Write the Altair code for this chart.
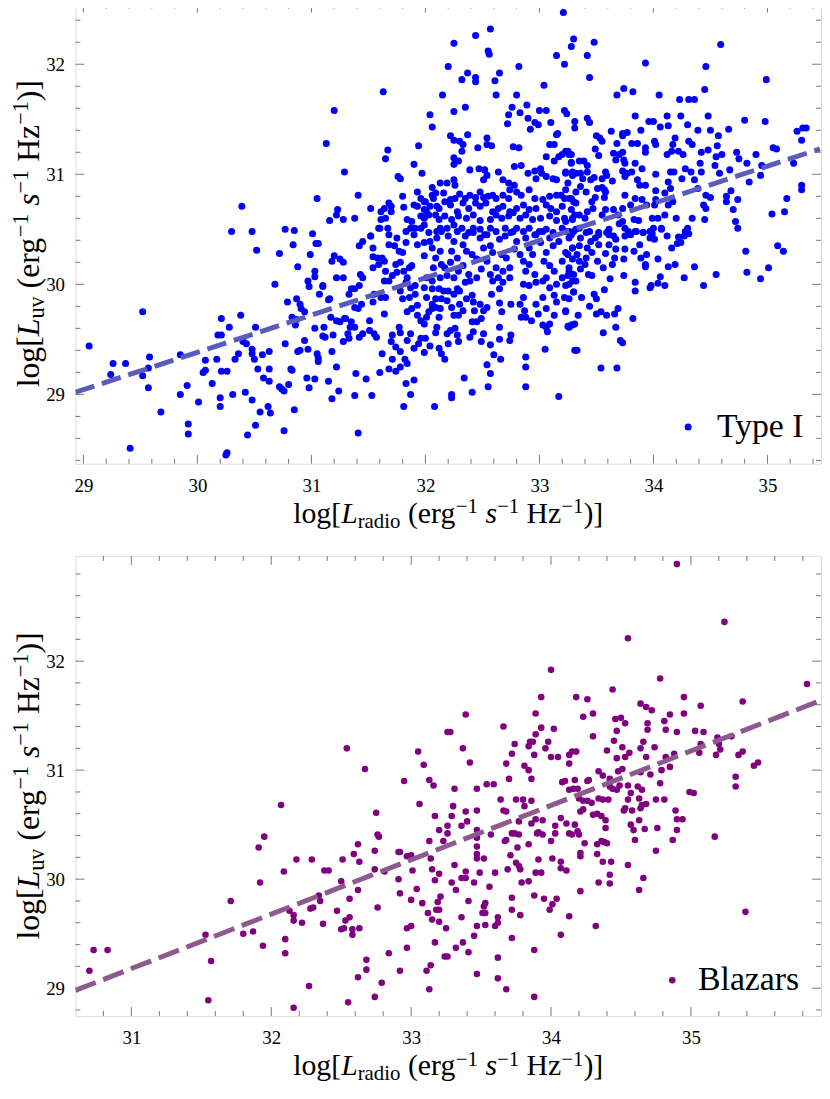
import altair as alt
import pandas as pd

FONT = "Liberation Serif"
FRAME = "#777777"

# ---------------- Type I (top panel) : (log L_radio, log L_uv) ----------------
type1_left = [
    (30.39,30.71),(31.05,30.78),
    (30.30,30.48),(30.48,30.48),(30.77,30.50),(30.85,30.49),(31.01,30.46),(31.04,30.37),(30.52,30.31),(30.72,30.28),
    (30.84,30.36),(30.99,30.27),(31.03,30.12),(31.03,30.07),(30.88,30.16),(30.68,30.00),(30.97,30.03),(30.98,29.98),
    (31.10,29.98),(31.07,29.91),(30.79,29.84),(30.87,29.87),(30.90,29.82),(30.91,29.78),(30.94,29.75),(30.83,29.70),
    (30.87,29.68),(30.86,29.63),(31.03,29.60),(31.15,29.86),
    (29.52,29.75),(29.05,29.44),(29.26,29.28),(29.37,29.28),(29.24,29.18),(29.52,29.17),(29.58,29.34),(29.57,29.24),
    (29.57,29.06),(29.68,28.84),(29.41,28.51),
    (29.85,29.36),(29.85,29.00),(29.91,29.08),(29.92,28.73),(29.92,28.64),(30.01,28.93),(30.07,29.31),(30.05,29.20),
    (30.07,29.22),(30.13,29.10),(30.17,29.32),(30.18,29.54),(30.21,29.54),(30.21,29.69),(30.28,29.61),(30.21,29.21),
    (30.26,29.21),(30.20,28.97),(30.20,28.89),(30.31,29.00),(30.25,28.45),(30.26,28.47),(30.33,29.32),(30.36,29.37),
    (30.38,29.72),(30.40,29.48),(30.43,29.46),(30.48,29.41),(30.48,29.37),(30.50,29.32),(30.51,29.61),(30.53,29.23),
    (30.57,29.36),(30.58,29.15),(30.63,29.39),(30.63,29.23),(30.63,29.12),(30.42,29.02),(30.48,28.95),(30.55,28.84),
    (30.62,28.89),(30.64,28.83),(30.51,28.72),(30.44,28.63),(30.76,28.67),(30.72,29.07),(30.74,29.05),(30.76,29.03),
    (30.80,29.09),(30.82,29.23),(30.83,29.22),(30.85,28.86),(30.77,29.46),(30.94,29.49),(30.88,29.39),(30.90,29.40),
    (30.97,29.41),(31.05,29.37),(31.06,29.33),(31.06,29.30),(30.96,29.15),(30.98,29.06),(31.03,29.14),(31.10,29.53),
]

type1_mid_upper = [
    (33.21,32.47),(32.57,32.32),(32.44,32.26),(32.25,32.19),(32.55,32.12),(32.56,32.09),(33.15,32.08),(33.22,32.00),
    (33.30,32.23),(33.28,32.16),(32.20,31.98),(32.82,31.98),(32.37,31.92),(32.32,31.86),(32.44,31.88),(32.44,31.84),
    (32.65,31.92),(32.61,31.85),(33.04,31.81),(31.63,31.75),(32.15,31.72),(32.62,31.72),(32.80,31.72),(31.20,31.58),
    (32.25,31.57),(32.35,31.61),(32.04,31.54),(32.06,31.43),(32.76,31.61),(32.73,31.54),(32.72,31.46),(32.83,31.56),
    (32.89,31.63),(32.90,31.51),(32.96,31.47),(32.99,31.45),(32.92,31.41),(33.00,31.58),(33.06,31.58),(33.10,31.47),
    (33.22,31.58),(33.24,31.55),(33.31,31.48),(33.31,31.42),(31.13,31.28),(31.67,31.22),(31.65,31.14),(31.94,31.26),
    (32.22,31.35),(32.25,31.31),(32.30,31.30),(32.33,31.27),(32.32,31.21),(32.37,31.36),(32.46,31.24),(32.54,31.33),
    (32.54,31.27),(32.58,31.26),(32.77,31.25),(32.82,31.24),(33.09,31.27),(33.13,31.27),(33.15,31.36),(33.16,31.37),
    (33.25,31.21),(33.28,31.18),(33.20,31.18),(33.17,31.16),(33.06,31.16),(33.13,31.12),(33.28,31.10),(31.90,31.09),
    (31.97,31.01),(32.25,31.15),(32.25,31.09),(32.29,31.12),(31.29,31.02),(31.76,30.98),(31.78,30.96),(31.41,30.81),
    (31.23,30.68),(31.22,30.63),(31.16,30.58),(31.28,30.59),(31.38,30.60),(31.52,30.69),(31.61,30.66),(31.64,30.69),
    (31.68,30.74),(31.70,30.71),(31.70,30.66),(31.61,30.59),(31.65,30.60),(31.80,30.80),(31.81,30.70),(31.90,30.72),
    (31.60,30.51),(31.52,30.44),(31.67,30.51),(31.84,30.59),(31.88,30.57),(31.87,30.51),(31.96,30.78),(32.00,30.75),
    (32.01,30.66),(31.99,30.60),(31.96,30.51),
    (32.06,30.88),(32.09,30.83),(32.07,30.78),(32.10,30.71),(32.09,30.63),(32.12,30.59),(32.13,30.51),(32.13,30.92),
    (32.19,30.92),(32.25,30.95),(32.26,30.90),(32.39,31.04),(32.47,31.05),(32.52,31.04),(32.54,30.99),(32.51,30.95),
    (32.64,31.02),(32.68,30.95),(32.73,30.92),(32.74,30.86),(32.78,30.90),(32.80,30.84),(32.78,31.07),(32.84,31.08),
    (32.90,31.01),(32.96,31.03),(33.01,31.05),(33.02,31.01),(32.97,30.96),(33.06,30.98),(33.12,30.96),(33.15,30.95),
    (33.23,31.01),(33.29,31.02),(33.25,30.92),(33.23,30.86),(33.19,30.81),(33.26,30.78),(33.30,30.75),
    (31.93,30.84),(31.99,30.75),(32.06,30.81),(32.16,30.83),(32.22,30.77),(32.26,30.78),(32.30,30.82),(32.35,30.78),
    (32.39,30.81),(32.44,30.79),(32.48,30.84),(32.51,30.79),(32.55,30.80),(32.59,30.81),(32.62,30.78),(32.68,30.81),
    (32.73,30.78),(32.84,30.81),(32.91,30.86),(32.96,30.78),(33.03,30.77),(33.09,30.80),(33.15,30.81),(33.22,30.78),
    (31.93,30.71),(31.99,30.68),(32.04,30.71),(32.12,30.69),(32.17,30.75),(32.22,30.72),(32.28,30.66),(32.33,30.74),
    (32.38,30.69),(32.44,30.74),(32.48,30.71),(32.53,30.74),(32.59,30.66),(32.64,30.69),(32.68,30.71),(32.74,30.66),
    (32.80,30.69),(32.86,30.72),(32.91,30.68),(32.97,30.69),(33.06,30.72),(33.10,30.69),(33.15,30.66),(33.20,30.71),
    (33.28,30.68),(33.31,30.63),
    (31.96,30.62),(32.03,30.63),(32.17,30.62),(32.23,30.59),(32.29,30.62),(32.36,30.60),(32.42,30.63),(32.48,30.58),
    (32.57,30.59),(32.62,30.63),(32.67,30.60),(32.73,30.62),(32.77,30.65),(32.83,30.60),(32.88,30.63),(32.94,30.59),
    (33.01,30.60),(33.09,30.62),(33.15,30.58),(33.22,30.60),(33.29,30.59),
    (31.91,30.51),(31.99,30.54),(32.03,30.47),(32.10,30.48),(32.19,30.51),(32.25,30.54),(32.28,30.48),(32.32,30.51),
    (32.38,30.47),(32.42,30.51),(32.48,30.50),(32.52,30.45),(32.57,30.51),(32.62,30.48),(32.70,30.51),(32.75,30.47),
    (32.80,30.51),(32.86,30.48),(32.91,30.51),(32.96,30.45),(33.00,30.48),(33.06,30.50),(33.12,30.47),(33.20,30.51),
    (33.26,30.48),
]

type1_mid_lower = [
    (31.41,28.65),(32.08,28.89),(31.81,28.89),(32.23,28.97),(32.23,29.00),(32.41,29.02),(32.55,29.07),(32.34,29.15),
    (32.57,29.19),(32.54,29.27),(32.88,29.07),(32.88,29.25),(32.88,29.34),(33.17,28.98),(33.05,29.41),(33.31,29.40),
    (32.66,29.32),(32.60,29.36),(31.18,28.96),(31.24,29.03),(31.15,29.12),(31.38,28.99),(31.39,29.19),(31.48,29.14),
    (31.53,28.99),(31.60,29.20),(31.68,29.23),(31.74,29.21),(31.78,29.25),(31.83,29.10),(31.87,29.00),(31.90,29.13),
    (31.22,29.25),(31.18,29.39),(31.62,29.37),(31.71,29.32),(31.78,29.39),(31.82,29.32),(31.84,29.28),(32.17,29.32),
    (32.14,29.37),(32.12,29.42),
    (31.99,29.38),(32.04,29.44),(31.90,29.42),(31.94,29.46),(31.96,29.51),(32.00,29.51),(31.84,29.49),(31.87,29.55),
    (32.20,29.46),(32.28,29.54),(32.29,29.48),(32.26,29.60),(32.22,29.58),(32.19,29.55),(32.09,29.56),(32.10,29.61),
    (32.39,29.52),(32.42,29.57),(32.51,29.55),(32.49,29.48),(32.57,29.45),(32.65,29.50),(32.65,29.61),(32.75,29.54),
    (32.74,29.49),(31.28,29.48),(31.33,29.51),(31.42,29.52),(31.45,29.55),(31.51,29.58),(31.55,29.55),(31.57,29.52),
    (31.71,29.54),(31.70,29.48),(31.74,29.43),(31.78,29.56),(31.77,29.61),(31.12,29.52),(31.11,29.61),(31.19,29.54),
    (31.25,29.66),(31.30,29.69),(31.34,29.61),(31.32,29.55),(31.38,29.61),
    (31.06,30.37),(31.18,30.21),(31.20,30.26),(31.25,30.23),(31.28,30.20),(31.22,30.06),(31.28,30.06),(31.10,29.99),
    (31.16,29.87),(31.35,29.96),(31.38,29.96),(31.42,29.99),(31.33,29.91),(31.43,30.09),(31.45,30.06),(31.45,30.39),
    (31.42,30.35),(31.52,30.44),(31.59,30.51),(31.54,30.33),(31.54,30.25),(31.58,30.24),(31.62,30.24),(31.54,30.15),
    (31.59,30.18),(31.64,30.21),(31.65,30.12),(31.55,29.91),(31.54,29.84),(31.44,29.82),(31.41,29.78),(31.38,29.79),
    (31.29,29.69),(31.22,29.67),(31.17,29.70),(31.35,29.66),(31.64,29.73),(31.61,29.88),(31.65,29.88),(31.51,29.67),
    (31.64,30.03),(31.68,30.03),(31.71,30.08),(31.75,30.11),(31.74,30.18),(31.77,30.30),(31.73,30.35),(31.68,30.36),
    (31.68,30.45),(31.75,30.42),(31.83,30.48),(31.83,30.38),(31.80,30.29),(31.78,30.20),(31.81,30.12),(31.86,30.15),
    (31.88,30.17),(31.84,30.06),(31.83,30.02),(31.87,29.97),(31.91,29.99),(31.78,29.94),(31.80,29.87),(31.86,29.88),
    (31.91,29.91),(31.93,29.81),(31.88,29.78),(31.84,29.75),(31.93,29.72),(31.96,29.67),(31.99,29.64),(32.01,29.70),
    (32.06,29.78),(32.03,29.75),(32.09,29.79),(32.13,29.78),(32.12,29.70),(32.06,29.82),(32.09,29.87),(32.01,29.88),
    (32.06,29.96),(32.12,29.96),(32.16,29.94),(32.14,29.87),(32.19,29.85),(32.20,29.94),(32.25,29.91),(32.23,29.79),
    (32.25,29.72),(32.30,29.82),(32.33,29.76),(32.29,29.72),(32.36,29.87),(32.41,29.90),(32.42,29.84),(32.43,29.76),
    (32.48,29.82),(32.51,29.76),(32.54,29.79),(32.49,29.69),(32.41,29.66),(32.45,29.66),
    (31.90,30.45),(31.93,30.36),(31.99,30.38),(31.99,30.26),(32.04,30.39),(32.06,30.33),(32.09,30.24),(32.13,30.30),
    (32.10,30.42),(32.14,30.48),(32.20,30.44),(32.25,30.39),(32.23,30.30),(32.28,30.24),(32.22,30.20),(32.17,30.15),
    (32.14,30.18),(32.07,30.15),(32.01,30.06),(31.99,29.97),(32.06,30.03),(32.13,30.06),(32.19,30.08),(32.25,30.06),
    (32.29,30.12),(32.33,30.17),(32.38,30.09),(32.35,30.02),(32.39,30.03),(32.45,30.06),(32.30,29.94),(32.28,29.96),
    (32.45,30.23),(32.41,30.27),(32.36,30.30),(32.33,30.36),(32.35,30.44),(32.42,30.47),(32.48,30.42),(32.54,30.45),
    (32.51,30.33),(32.57,30.35),(32.59,30.29),(32.54,30.21),(32.49,30.14),(32.57,30.09),(32.62,30.15),(32.68,30.12),
    (32.64,30.06),(32.59,30.03),(32.58,29.91),(32.65,29.96),(32.68,30.02),(32.74,30.06),(32.74,30.15),(32.71,30.24),
    (32.67,30.27),(32.65,30.41),(32.70,30.44),(32.77,30.48),(32.80,30.39),(32.78,30.32),(32.83,30.27),(32.86,30.21),
    (32.88,30.12),(32.86,30.00),(32.91,29.99),(32.97,30.02),(32.96,30.09),(32.91,30.18),(32.94,30.27),(32.91,30.33),
    (32.88,30.42),(32.97,30.45),(33.03,30.48),(33.09,30.42),(33.12,30.35),(33.06,30.29),(33.04,30.21),(33.09,30.17),
    (33.13,30.12),(33.06,30.06),(33.03,30.03),(33.09,29.97),(33.15,30.00),(33.20,30.06),(33.25,30.08),(33.29,30.03),
    (33.26,30.15),(33.20,30.21),(33.23,30.29),(33.29,30.33),(33.26,30.42),(33.30,30.48),(33.17,30.39),(33.01,30.38),
    (32.65,29.83),(32.75,29.82),(32.67,29.75),(32.83,29.82),(32.86,29.88),(32.87,29.76),(32.88,29.70),(32.93,29.67),
    (32.97,29.82),(32.99,29.73),(33.03,29.88),(33.06,29.78),(33.13,29.90),(33.15,29.84),(33.22,29.88),(33.23,29.76),
    (33.13,29.72),(33.09,29.64),(33.06,29.61),(33.07,29.57),(33.03,29.63),(33.26,29.61),(33.29,29.63),(33.30,29.93),
    (32.84,29.70),
]

type1_right_upper = [
    (33.48,32.20),(33.42,32.08),(33.44,31.88),(33.93,32.01),(34.59,32.18),(34.46,31.98),(34.99,31.86),(33.74,31.78),
    (33.68,31.72),(33.82,31.75),(34.05,31.72),(34.23,31.68),(34.31,31.68),(34.36,31.68),(34.45,31.77),(33.42,31.51),
    (33.44,31.47),(33.84,31.53),(33.96,31.48),(34.00,31.48),(34.12,31.53),(34.06,31.43),(34.13,31.44),(34.24,31.53),
    (34.30,31.45),(34.39,31.40),(34.50,31.40),(34.48,31.53),(34.66,31.41),(34.57,31.35),(34.80,31.49),(34.98,31.48),
    (35.26,31.39),(35.31,31.42),(35.34,31.42),(35.30,31.31),(35.05,31.24),(35.08,31.23),(33.63,31.39),(33.50,31.35),
    (33.53,31.33),(33.55,31.30),(33.49,31.23),(33.52,31.17),(33.73,31.37),(33.77,31.38),(33.73,31.35),(33.68,31.28),
    (33.81,31.28),(33.86,31.28),(33.89,31.40),(33.93,31.24),(33.93,31.20),(34.01,31.30),(34.02,31.27),(34.17,31.27),
    (34.19,31.33),(34.12,31.18),(34.16,31.21),(34.22,31.21),(34.26,31.18),(34.31,31.30),(34.34,31.27),(34.42,31.20),
    (34.48,31.22),(34.56,31.26),(34.55,31.16),(34.60,31.18),(34.73,31.20),(34.75,31.14),(34.90,31.18),(34.82,31.10),
    (34.95,31.08),(34.94,30.99),(34.84,30.93),(34.67,31.04),(34.58,31.01),(34.54,31.08),(35.23,31.10),(35.30,30.90),
    (35.30,30.86),(35.17,30.78),(35.04,30.64),(35.15,30.66),(34.64,30.80),(34.64,30.75),(34.68,30.85),(34.74,30.77),
    (34.70,30.68),(34.72,30.57),(34.41,31.10),(34.42,31.02),(34.33,31.02),(34.28,31.05),(34.36,30.95),(34.39,30.87),
    (34.46,30.81),(34.50,30.79),(34.44,30.72),(34.46,30.69),(34.45,30.59),(34.34,30.60),(34.30,30.51),(34.28,30.48),
    (34.15,31.02),(34.18,31.02),(34.25,30.96),(34.13,30.93),(34.15,30.87),(34.10,30.83),(34.02,30.85),(34.02,30.77),
    (34.01,30.72),(34.17,30.75),(34.13,30.72),(34.20,30.60),(34.10,30.63),(34.04,30.60),(33.99,30.60),(34.00,30.51),
    (34.07,30.51),(33.99,30.46),(33.91,30.47),(33.85,30.48),(33.78,30.48),(33.75,30.51),(33.90,31.05),(34.02,31.00),
    (33.86,30.95),(33.88,30.90),(33.93,30.90),(33.90,30.77),(33.94,30.72),(33.84,30.78),(33.75,30.81),(33.80,30.72),
    (33.73,30.69),(33.69,30.63),(33.65,30.68),(33.58,30.68),(33.55,30.63),(33.61,30.50),(33.70,30.55),(33.73,30.57),
    (33.83,30.59),(33.87,30.58),(33.58,31.02),(33.59,30.99),(33.64,30.94),(33.55,30.96),(33.58,30.84),(33.57,30.79),
    (33.49,30.79),(33.46,30.75),(33.47,30.69),(33.42,30.66),(33.40,30.60),(33.35,30.63),(33.32,30.74),(33.28,30.78),
    (33.29,30.60),(33.23,30.57),(33.35,30.51),(33.44,30.48),(33.52,30.45),(33.59,30.47),(33.23,31.21),(33.26,31.18),
    (33.28,31.11),(33.35,31.12),(33.39,31.12),(33.42,31.08),(33.42,31.02),(33.36,31.01),(33.32,31.01),(33.29,30.99),
    (33.23,31.02),(33.38,30.96),(33.45,30.95),(33.48,30.97),(33.51,30.87),(33.55,30.88),(33.57,30.86),(33.41,30.84),
    (33.36,30.89),(33.32,30.84),(33.73,31.20),(33.70,31.18),(33.67,31.13),(33.74,31.13),(33.75,31.10),(33.84,31.10),
    (33.73,31.03),(33.77,31.01),(33.81,31.02),(33.75,30.98),(33.65,31.19),
]

type1_right_lower = [
    (34.12,30.44),(34.07,30.50),(34.01,30.41),(33.97,30.42),(33.97,30.48),(33.91,30.47),(33.88,30.36),(33.83,30.30),
    (33.89,30.24),(33.94,30.27),(34.04,30.23),(33.93,30.18),(33.93,30.16),(34.13,30.16),(34.19,30.18),(34.06,30.07),
    (34.04,30.01),(34.10,29.99),(33.98,29.99),(33.97,29.97),(33.74,30.08),(33.74,30.23),(33.75,30.32),(33.66,30.24),
    (33.64,30.18),(33.62,30.05),(33.57,29.95),(33.56,30.15),(33.58,30.28),(33.67,30.32),(33.61,30.36),(33.52,30.36),
    (33.49,30.42),(33.52,30.47),(33.61,30.45),(33.65,30.44),(33.67,30.41),(33.75,30.44),(33.80,30.45),(33.84,30.48),
    (33.44,29.80),(33.50,29.87),(33.48,29.91),(33.37,29.88),(33.30,29.93),(33.34,29.72),(33.31,29.64),(33.28,29.63),
    (33.25,29.62),(33.23,29.75),(33.26,29.87),(33.32,30.03),(33.23,29.99),(33.26,30.00),(33.43,30.09),(33.46,30.08),
    (33.36,30.14),(33.35,30.21),(33.40,30.18),(33.23,30.48),(33.28,30.45),(33.32,30.50),(33.36,30.42),(33.41,30.47),
    (33.45,30.39),(33.42,30.33),(33.35,30.35),(33.29,30.33),(33.25,30.27),(33.29,30.23),(33.33,30.27),(33.46,30.29),
    (33.51,30.21),(33.26,30.12),(33.30,30.09),(33.41,30.24),
    (34.74,30.51),(34.81,30.30),(35.09,30.35),(35.14,30.30),(34.82,30.11),(35.01,30.15),(34.94,30.05),(34.55,30.09),
    (34.44,29.99),(34.27,30.06),(34.36,30.16),(34.16,30.33),(34.24,30.38),(34.27,30.44),(34.31,30.46),(34.22,30.43),
    (34.21,30.37),(33.84,30.02),(33.84,29.94),(33.82,29.69),(33.69,29.78),(33.66,29.73),(33.59,29.72),(33.54,29.75),
    (33.50,29.73),(33.67,29.61),(33.56,29.56),(33.71,29.49),(33.73,29.47),(33.68,29.24),(33.54,29.24),(33.33,29.40),
]

# ---------------- Blazars (bottom panel) ----------------
blazar_upper = [
    (32.54,31.20),(32.67,31.01),(33.05,31.17),(33.09,31.05),(32.95,30.90),(33.13,30.91),(33.26,31.35),
    (34.90,32.89),(35.24,32.36),(34.55,32.21),(34.00,31.92),(34.78,31.84),(35.83,31.79),(34.44,31.74),(33.93,31.67),
    (34.18,31.67),(34.26,31.65),(34.95,31.67),(35.37,31.63),(33.39,31.51),(33.89,31.52),(34.23,31.49),(34.30,31.52),
    (34.64,31.61),(34.68,31.58),(34.72,31.55),(34.85,31.51),(34.95,31.52),(35.07,31.59),(33.28,31.35),(33.66,31.40),
    (33.93,31.39),(34.02,31.38),(33.89,31.33),(34.46,31.47),(34.50,31.48),(34.53,31.43),(34.47,31.36),(34.30,31.31),
    (34.69,31.43),(34.69,31.37),(34.81,31.45),(34.82,31.37),(34.90,31.35),(35.03,31.36),(35.09,31.35),(35.19,31.30),
    (35.29,31.31),(35.20,31.24),(35.21,31.19),(35.18,31.14),(35.07,31.24),(35.06,31.16),(35.34,31.14),(35.37,31.17),
    (35.45,31.04),(35.48,31.07),(35.32,30.94),(33.37,31.20),(33.42,31.07),(33.74,31.24),(33.72,31.15),(33.68,31.06),
    (33.70,30.92),(33.84,31.22),(33.85,31.26),(33.87,31.26),(33.88,31.14),(33.98,31.26),(33.96,31.20),(33.81,31.04),
    (33.84,31.00),(33.86,30.92),(34.00,31.12),(34.05,31.12),(34.13,31.14),(34.15,31.17),(34.18,31.17),(34.13,31.06),
    (34.08,30.89),(34.10,30.90),(34.17,30.91),(34.26,30.90),(34.27,30.91),(34.34,30.99),(34.37,30.95),(34.42,30.92),
    (34.48,30.99),(34.51,31.01),(34.47,31.11),(34.51,31.21),(34.53,31.12),(34.56,31.16),(34.45,31.27),(34.40,31.18),
    (34.64,31.20),(34.66,31.26),(34.74,31.21),(34.68,31.12),(34.64,30.98),(34.71,30.96),(34.79,31.00),(34.82,31.12),
    (34.85,31.03),(34.88,31.15),
]

blazar_lower_left = [
    (30.70,29.16),(30.73,29.35),(30.83,29.35),(31.55,28.89),(31.57,29.25),(31.53,29.49),(31.71,29.80),(31.80,29.50),
    (31.87,29.52),(31.94,29.39),(31.91,30.29),(31.95,30.39),(31.92,29.97),(32.07,30.68),(32.09,30.07),(32.13,29.71),
    (32.16,29.67),(32.16,29.62),(32.22,29.60),(32.10,29.45),(32.10,29.32),(32.18,30.18),(32.29,30.18),(32.16,28.82),
    (32.27,29.02),(32.28,29.73),(32.30,29.74),(32.34,29.85),(32.35,29.80),(32.37,29.59),(32.38,30.08),(32.41,30.08),
    (32.47,29.71),(32.50,29.98),(32.51,30.18),(32.50,29.54),(32.52,29.55),(32.53,29.62),(32.56,29.65),(32.56,29.82),
    (32.58,29.54),(32.58,29.49),(32.59,30.23),(32.62,30.32),(32.63,30.16),(32.62,29.90),(32.63,29.55),(32.62,29.10),
    (32.55,28.87),(32.68,29.26),(32.68,29.17),(32.74,28.92),(32.79,29.05),(32.84,29.32),(32.75,30.61),(32.76,30.41),
    (32.77,30.39),(32.74,30.26),(32.74,30.09),(32.76,29.74),(32.81,30.07),(32.91,30.25),(32.92,30.25),(32.91,30.00),
    (32.92,29.87),(32.92,29.16),(32.97,30.21),(33.00,30.22),(33.01,30.08),(33.00,29.81),(32.97,29.55),(33.00,29.57),
    (32.97,29.37),(33.04,29.91),(33.08,29.78),(33.06,30.69),(33.12,29.69),(33.15,29.63),(33.13,30.35),(33.14,30.19),
    (33.15,30.09),(33.17,29.99),(33.19,29.79),(33.18,29.72),(33.20,29.72),(33.20,30.05),(33.20,30.45),(33.17,30.58),
    (33.16,30.86),(33.21,29.84),(33.17,29.42),(33.24,29.29),(33.25,29.55),(33.23,30.35),(33.26,30.42),(33.26,30.49),
    (33.20,29.61),(33.14,29.21),(33.11,29.16),(33.13,28.99),
]

blazar_lower_right = [
    (33.31,30.83),(33.47,30.83),(33.54,30.87),(33.59,30.87),(33.64,30.73),(33.75,30.73),(33.80,30.73),(33.86,30.72),
    (33.81,30.67),(33.66,30.63),(33.68,30.62),(33.30,30.67),(33.29,30.58),(33.39,30.62),(33.40,30.53),(33.36,30.49),
    (33.47,30.63),(33.47,30.45),(33.47,30.38),(33.47,30.30),(33.47,30.23),(33.47,30.19),(33.52,30.19),(33.49,30.06),
    (33.45,29.97),(33.31,30.13),(33.32,29.90),(33.29,29.97),(33.36,30.01),(33.39,30.01),(33.39,30.07),(33.57,30.41),
    (33.60,30.06),(33.56,29.93),(33.41,29.80),(33.36,29.65),(33.26,29.29),(33.53,29.78),(33.52,29.75),(33.51,29.69),
    (33.53,29.69),(33.53,29.58),(33.47,29.57),(33.45,29.48),(33.37,29.42),(33.32,29.37),(33.41,29.33),(33.60,29.57),
    (33.62,29.65),(33.62,29.60),(33.62,29.28),(33.62,29.09),(33.68,28.99),(33.47,29.13),(33.72,29.83),(33.72,29.72),
    (33.78,29.67),(33.72,29.46),(33.88,29.35),(33.88,28.92),
    (33.69,30.09),(33.71,30.22),(33.75,30.15),(33.77,30.12),(33.78,30.09),(33.79,29.97),(33.84,29.98),(33.76,30.29),
    (33.74,30.42),(33.77,30.41),(33.72,30.42),(33.68,30.36),(33.67,30.35),(33.77,30.53),(33.84,30.32),(33.86,30.51),
    (33.89,30.55),(33.90,30.42),(33.91,30.43),(33.94,30.41),(33.94,30.54),(33.91,30.18),(33.89,30.06),(33.93,30.06),
    (33.88,29.85),(33.95,29.82),(33.99,29.72),(34.01,29.77),(34.04,29.82),(34.07,29.49),(34.13,29.66),
    (34.00,30.35),(34.01,30.19),(34.03,30.49),(34.03,30.42),(34.07,30.56),(34.07,30.16),(34.07,30.10),(34.11,30.08),
    (34.11,30.51),(34.13,30.42),(34.15,30.41),(34.17,30.50),(34.19,30.44),(34.20,30.41),(34.21,30.24),(34.21,30.21),
    (34.24,30.33),(34.21,29.89),(34.23,30.64),(34.21,30.62),
    (34.13,30.82),(34.16,30.83),(34.19,30.83),(34.20,30.74),(34.23,30.72),(34.26,30.72),(34.29,30.70),(34.30,30.59),
    (34.33,30.60),(34.36,30.58),(34.39,30.54),(34.39,30.47),(34.33,30.32),(34.36,30.35),(34.38,30.34),(34.40,30.33),
    (34.33,30.23),(34.37,30.16),(34.43,30.16),(34.42,30.04),(34.42,29.96),(34.34,29.97),(34.32,29.57),
    (34.34,30.74),(34.37,30.73),(34.41,30.73),(34.42,30.85),(34.44,30.83),(34.49,30.86),(34.47,30.82),(34.55,30.86),
    (34.57,30.79),(34.55,30.73),(34.53,30.65),(34.52,30.63),(34.58,30.63),(34.62,30.85),(34.65,30.82),(34.63,30.74),
    (34.65,30.68),(34.68,30.69),(34.64,30.65),(34.57,30.50),(34.59,30.45),(34.67,30.46),(34.63,30.54),(34.60,30.36),
    (34.55,30.13),(34.66,30.01),(34.63,29.90),
    (34.75,30.73),(34.81,30.73),(34.78,30.88),(34.89,30.63),(34.90,30.55),(34.94,30.55),(34.90,30.45),(34.87,30.36),
    (34.76,30.47),(34.75,30.26),(34.99,30.80),(35.02,30.79),(35.17,30.39),(35.32,30.85),(35.39,29.70),
]

# Dashed fit lines (end points)
type1_fit_x = [28.93, 35.46]
type1_fit_y = [29.02, 31.23]
blazar_fit_x = [30.60, 35.93]
blazar_fit_y = [28.98, 31.64]

# Axis ranges and tick labels
type1_xdom, type1_ydom = [28.93, 35.47], [28.37, 32.55]
blazar_xdom, blazar_ydom = [30.60, 35.93], [28.745, 32.965]
type1_xlabels, type1_ylabels = [29, 30, 31, 32, 33, 34, 35], [29, 30, 31, 32]
blazar_xlabels, blazar_ylabels = [31, 32, 33, 34, 35], [29, 30, 31, 32]

W, H = 752, 464
ONE = pd.DataFrame({"k": [0]})

NORMAL_W = {"l": 278, "o": 500, "g": 500, "[": 333, "]": 333, "(": 333, ")": 333, "e": 444, "r": 333,
            "H": 722, "z": 444, "\u2212": 564, "1": 500, "a": 444, "d": 500, "i": 278, "u": 500, "v": 500}
ITALIC_W = {"L": 556, "s": 389}


def twidth(s, italic, fs):
    tab = ITALIC_W if italic else NORMAL_W
    return sum(tab.get(c, 500) for c in s) * fs / 1000.0


def title_layers(sub, cx, cy, vertical, fs):
    sfs = round(fs * 0.7, 1)
    up = -round(fs * 0.34)
    down = round(fs * 0.17)
    pieces = [("log[", False, False, 0, 0), ("L", True, False, 0, 0), (sub, False, True, down, 0),
              ("(erg", False, False, 0, 1), ("\u22121", False, True, up, 0), ("s", True, False, 0, 1),
              ("\u22121", False, True, up, 0), ("Hz", False, False, 0, 1), ("\u22121", False, True, up, 0),
              (")]", False, False, 0, 0)]
    off, items = 0.0, []
    for text, it, small, shift, sp in pieces:
        size = sfs if small else fs
        off += sp * 0.25 * fs
        items.append((text, it, size, shift, off))
        off += twidth(text, it, size)
    total = off
    layers = []
    for text, it, size, shift, o in items:
        mk = alt.Chart(ONE).mark_text(
            text=text, font=FONT, fontSize=size, fontStyle="italic" if it else "normal",
            align="left", baseline="alphabetic", angle=270 if vertical else 0,
            dx=o - total / 2, dy=shift, color="black")
        layers.append(mk.encode(x=alt.value(cx), y=alt.value(cy)))
    return layers


def tick_vals(lo, hi):
    vals = [round(lo + 0.2 * i, 1) for i in range(int(round((hi - lo) / 0.2)) + 1)]
    major = [v for v in vals if abs(v - round(v)) < 1e-6]
    minor = [v for v in vals if abs(v - round(v)) >= 1e-6]
    return major, minor


def panel(points, color, size, xdom, ydom, xlabels, ylabels, xt, yt, fit_x, fit_y,
          line_color, dash, label, dot_pos, text_x, sub_x):
    df = pd.DataFrame(points, columns=["x", "y"])
    xs = alt.Scale(domain=xdom, nice=False, zero=False)
    ys = alt.Scale(domain=ydom, nice=False, zero=False)
    common = dict(ticks=False, domain=False, grid=False, labelFont=FONT, labelFontSize=19,
                  labelColor="black", title=None, format="d", labelFlush=False, labelOverlap=False)
    xaxis = alt.Axis(values=xlabels, labelPadding=13, **common)
    yaxis = alt.Axis(values=ylabels, labelPadding=11, **common)
    X = lambda f: alt.X(f, scale=xs, axis=xaxis, title=None)
    Y = lambda f: alt.Y(f, scale=ys, axis=yaxis, title=None)
    layers = [alt.Chart(df).mark_circle(color=color, size=size, opacity=1).encode(x=X("x:Q"), y=Y("y:Q"))]
    fit = pd.DataFrame({"x": fit_x, "y": fit_y})
    layers.append(alt.Chart(fit).mark_line(color=line_color, strokeWidth=5, strokeDash=dash,
                                            clip=True).encode(x=X("x:Q"), y=Y("y:Q")))
    xmaj, xmin = xt
    ymaj, ymin = yt
    for vals, ln in ((xmaj, 9), (xmin, 5)):
        d = pd.DataFrame({"x": vals})
        base = alt.Chart(d).mark_rule(color=FRAME, strokeWidth=1)
        layers.append(base.encode(x=X("x:Q"), y=alt.value(H), y2=alt.value(H - ln)))
        layers.append(base.encode(x=X("x:Q"), y=alt.value(0), y2=alt.value(ln)))
    for vals, ln in ((ymaj, 9), (ymin, 5)):
        d = pd.DataFrame({"y": vals})
        base = alt.Chart(d).mark_rule(color=FRAME, strokeWidth=1)
        layers.append(base.encode(y=Y("y:Q"), x=alt.value(0), x2=alt.value(ln)))
        layers.append(base.encode(y=Y("y:Q"), x=alt.value(W), x2=alt.value(W - ln)))
    # legend
    layers.append(alt.Chart(ONE).mark_circle(color=color, size=size, opacity=1).encode(
        x=alt.value(dot_pos[0]), y=alt.value(dot_pos[1])))
    layers.append(alt.Chart(ONE).mark_text(text=label, font=FONT, fontSize=34, align="left",
                                           baseline="middle", color="black").encode(
        x=alt.value(text_x), y=alt.value(dot_pos[1])))
    # axis titles
    layers += title_layers(sub_x, W / 2, H + 60, False, 30)
    layers += title_layers("uv", -37, H / 2, True, 32)
    return alt.layer(*layers).properties(width=W, height=H)


top = panel(type1_left + type1_mid_upper + type1_mid_lower + type1_right_upper + type1_right_lower,
            "#0000ff", 50, type1_xdom, type1_ydom, type1_xlabels, type1_ylabels,
            tick_vals(29.0, 35.4), tick_vals(28.4, 32.4), type1_fit_x, type1_fit_y,
            "#5b5bbd", [20, 8], "Type I", (618, 427), 647, "radio")

bottom = panel(blazar_upper + blazar_lower_left + blazar_lower_right,
               "#800080", 44, blazar_xdom, blazar_ydom, blazar_xlabels, blazar_ylabels,
               tick_vals(30.8, 35.8), tick_vals(28.8, 32.8), blazar_fit_x, blazar_fit_y,
               "#8d5a8f", [22, 8], "Blazars", (602, 428), 628, "radio")

chart = alt.vconcat(top, bottom, spacing=22).properties(
    padding={"left": 1, "top": -10, "right": 0, "bottom": 0}
).configure_view(stroke=FRAME, strokeWidth=1).configure_axis(
    labelFont=FONT, labelFontSize=19
).configure(background="white")

chart.save("out.html", embed_options={"renderer": "svg", "actions": False})
